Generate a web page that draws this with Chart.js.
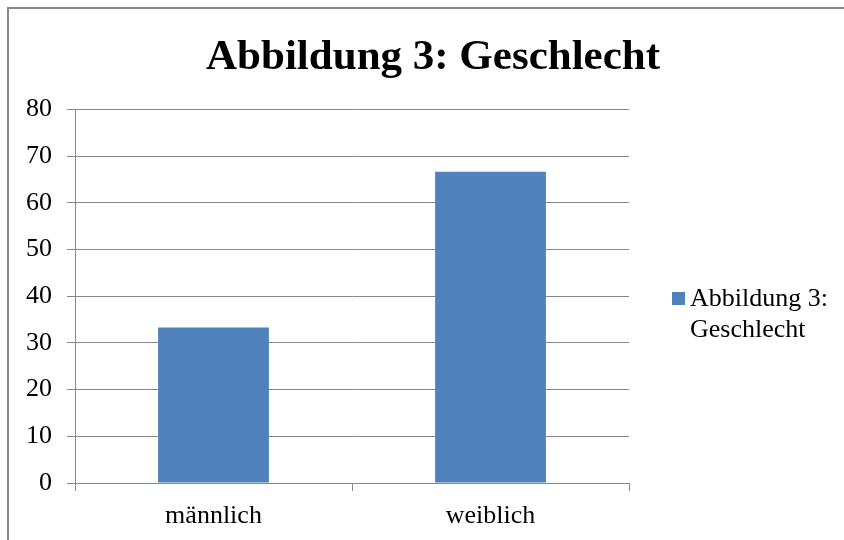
<!DOCTYPE html>
<html>
<head>
<meta charset="utf-8">
<script src="https://cdn.jsdelivr.net/npm/chart.js@4"></script>
<style>
  body { margin: 0; background: #fff; }
  #wrap { position: relative; width: 844px; height: 540px; overflow: hidden; }
  #frame { position: absolute; left: 7px; top: 7px; width: 900px; height: 600px;
    border-left: 2px solid #888; border-top: 2px solid #888; }
  #legend { position: absolute; left: 672px; top: 282px; font-family: "Liberation Serif", serif;
    font-size: 26px; line-height: 31px; color: #000; }
  #legend .box { position: absolute; left: 0; top: 10px; width: 13px; height: 13px; }
  #legend .txt { margin-left: 18px; }
</style>
</head>
<body>
<div id="wrap">
  <div id="frame"></div>
  <canvas id="chart" width="844" height="540"></canvas>
  <div id="legend"></div>
</div>
<script>
const categories = ['männlich', 'weiblich'];
const values = [33.3, 66.7];
const seriesName = 'Abbildung 3: Geschlecht';
const legendLines = ['Abbildung 3:', 'Geschlecht'];
const barColor = '#4F81BD';
const gridColor = '#888888';

const ctx = document.getElementById('chart').getContext('2d');
new Chart(ctx, {
  type: 'bar',
  data: {
    labels: categories,
    datasets: [{
      label: seriesName,
      data: values,
      backgroundColor: barColor,
      barPercentage: 0.4,
      categoryPercentage: 1
    }]
  },
  options: {
    responsive: false,
    animation: false,
    layout: { padding: { left: 22, right: 0, top: 0, bottom: 0 } },
    plugins: {
      legend: { display: false },
      tooltip: { enabled: false },
      title: {
        display: true,
        text: seriesName,
        color: '#000',
        font: { family: 'Liberation Serif', size: 43, weight: 'bold', lineHeight: 1.2 },
        padding: { top: 32, bottom: 26 }
      }
    },
    scales: {
      x: {
        offset: true,
        grid: { offset: true, drawOnChartArea: false, drawTicks: true, tickLength: 8, color: gridColor },
        border: { color: gridColor },
        ticks: { color: '#000', padding: 10, font: { family: 'Liberation Serif', size: 26 } },
        afterFit: scale => { scale.height = 57; }
      },
      y: {
        min: 0,
        max: 80,
        ticks: { stepSize: 10, color: '#000', padding: 15, font: { family: 'Liberation Serif', size: 26 } },
        grid: { color: gridColor, tickLength: 8 },
        border: { color: gridColor },
        afterFit: scale => { scale.width = 53; }
      },
      // empty right-hand space reserved for the legend
      legendSpace: {
        position: 'right',
        display: true,
        ticks: { display: false },
        grid: { display: false },
        border: { display: false },
        afterFit: scale => { scale.width = 215; }
      }
    }
  }
});

// legend built from the series name
const legend = document.getElementById('legend');
legend.innerHTML = `<span class="box" style="background:${barColor}"></span>` +
  legendLines.map(l => `<div class="txt">${l}</div>`).join('');
</script>
</body>
</html>
